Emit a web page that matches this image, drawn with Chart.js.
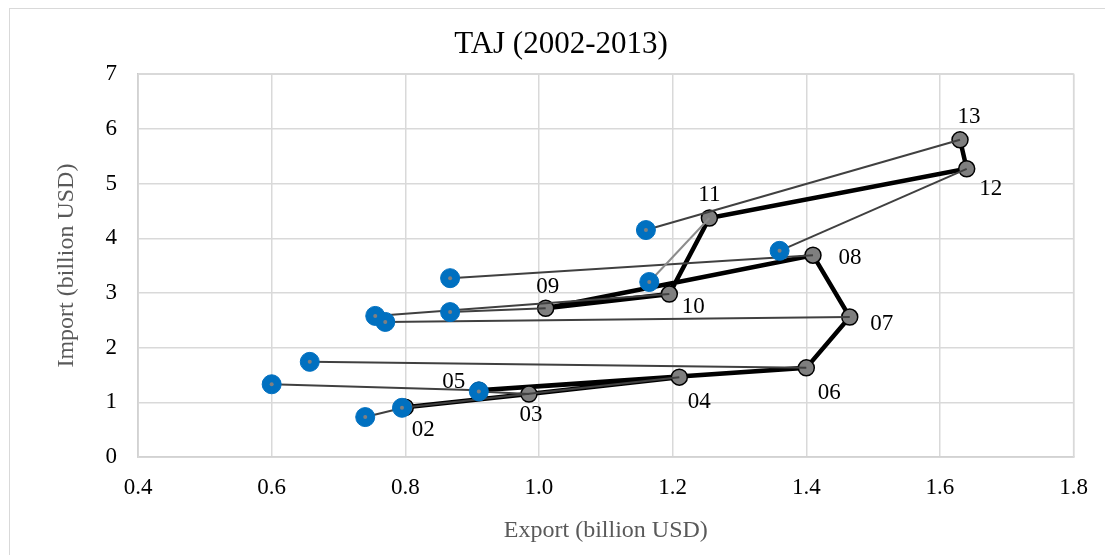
<!DOCTYPE html>
<html>
<head>
<meta charset="utf-8">
<script src="https://cdn.jsdelivr.net/npm/chart.js@4.4.1/dist/chart.umd.min.js"></script>
<style>
    html, body { margin: 0; padding: 0; background: #fff; }
    #wrap { position: relative; width: 1105px; height: 555px; overflow: hidden; }
    #frame { position: absolute; left: 9px; top: 8px; width: 1120px; height: 580px; border: 1px solid #d9d9d9; }
    canvas { position: absolute; left: 0; top: 0; }
</style>
</head>
<body>
<div id="wrap">
    <div id="frame"></div>
    <canvas id="chart" width="1105" height="555"></canvas>
</div>
<script>
// year labels for each point
const years = ['02', '03', '04', '05', '06', '07', '08', '09', '10', '11', '12', '13'];

// grey points (black path)
const exportGrey = [0.80, 0.985, 1.21, 0.91, 1.40, 1.465, 1.41, 1.01, 1.195, 1.255, 1.64, 1.63];
const importGrey = [0.91, 1.15, 1.46, 1.22, 1.63, 2.56, 3.69, 2.72, 2.98, 4.37, 5.27, 5.80];

// blue points, one per year
const exportBlue = [0.74, 0.91, 0.795, 0.60, 0.657, 0.77, 0.867, 0.867, 0.755, 1.165, 1.36, 1.16];
const importBlue = [0.73, 1.20, 0.90, 1.33, 1.74, 2.47, 3.27, 2.65, 2.58, 3.20, 3.77, 4.15];

// axis ticks
const xTicks = [0.4, 0.6, 0.8, 1.0, 1.2, 1.4, 1.6, 1.8];
const yTicks = [0, 1, 2, 3, 4, 5, 6, 7];

// label offsets (px) relative to grey point
const labelOffsets = [[18, 23], [2, 21], [20, 25], [-25, -8], [23, 25], [32, 7],
    [37, 3], [2, -21], [24, 13], [0, -23], [24, 20], [9, -23]];

const greyPts = years.map((y, i) => ({ x: exportGrey[i], y: importGrey[i] }));
const bluePts = years.map((y, i) => ({ x: exportBlue[i], y: importBlue[i] }));

// thin connector lines: blue -> grey, gap, ...
const pairPts = [];
years.forEach((y, i) => {
    pairPts.push(bluePts[i], greyPts[i], { x: null, y: null });
});
const lightPair = years.indexOf('11') * 3;

const serif = "'Liberation Serif', 'Times New Roman', serif";

// small grey dot in the middle of blue markers + year labels
const markPlugin = {
    id: 'marks',
    afterDatasetsDraw(chart) {
        const ctx = chart.ctx;
        const blueMeta = chart.getDatasetMeta(0);
        ctx.save();
        ctx.fillStyle = '#808080';
        blueMeta.data.forEach(p => {
            ctx.beginPath();
            ctx.arc(p.x, p.y, 2, 0, Math.PI * 2);
            ctx.fill();
        });
        const greyMeta = chart.getDatasetMeta(2);
        ctx.fillStyle = '#000';
        ctx.font = '23px ' + serif;
        ctx.textAlign = 'center';
        ctx.textBaseline = 'middle';
        greyMeta.data.forEach((p, i) => {
            ctx.fillText(years[i], p.x + labelOffsets[i][0], p.y + labelOffsets[i][1]);
        });
        ctx.restore();
    }
};

const chart = new Chart(document.getElementById('chart'), {
    type: 'scatter',
    data: {
        datasets: [
            {
                label: 'blue',
                data: bluePts,
                showLine: false,
                pointRadius: 9.5,
                pointBackgroundColor: '#0070C0',
                pointBorderColor: '#0070C0',
                pointBorderWidth: 1,
                order: 0
            },
            {
                label: 'pairs',
                data: pairPts,
                showLine: true,
                spanGaps: false,
                borderColor: '#404040',
                borderWidth: 2,
                pointRadius: 0,
                segment: {
                    borderColor: c => c.p0DataIndex === lightPair ? '#8c8c8c' : undefined
                },
                order: 1
            },
            {
                label: 'path',
                data: greyPts,
                showLine: true,
                borderColor: '#000',
                borderWidth: 4.5,
                pointRadius: 8,
                pointBackgroundColor: '#7f7f7f',
                pointBorderColor: '#000',
                pointBorderWidth: 1.5,
                order: 2
            }
        ]
    },
    options: {
        responsive: false,
        animation: false,
        layout: { padding: { top: 10, right: 30, left: 47, bottom: 0 } },
        plugins: {
            legend: { display: false },
            tooltip: { enabled: false },
            title: {
                display: true,
                text: 'TAJ (2002-2013)',
                color: '#000',
                font: { family: serif, size: 31, weight: 'normal' },
                padding: { top: 16, bottom: 11 }
            }
        },
        scales: {
            x: {
                type: 'linear',
                min: xTicks[0],
                max: xTicks[xTicks.length - 1],
                afterBuildTicks: s => { s.ticks = xTicks.map(v => ({ value: v })); },
                afterFit: s => { s.height = 98; },
                grid: { color: '#d9d9d9', lineWidth: 1.5, drawTicks: false },
                border: { color: '#bfbfbf', width: 1.5 },
                ticks: {
                    color: '#000',
                    padding: 17,
                    font: { family: serif, size: 23 },
                    callback: v => v.toFixed(1)
                },
                title: {
                    display: true,
                    text: 'Export (billion USD)',
                    color: '#595959',
                    font: { family: serif, size: 24 },
                    padding: { top: 0, bottom: 10 }
                }
            },
            y: {
                type: 'linear',
                min: yTicks[0],
                max: yTicks[yTicks.length - 1],
                afterBuildTicks: s => { s.ticks = yTicks.map(v => ({ value: v })); },
                afterFit: s => { s.width = 91; },
                grid: { color: '#d9d9d9', lineWidth: 1.5, drawTicks: false },
                border: { color: '#bfbfbf', width: 1.5 },
                ticks: {
                    color: '#000',
                    padding: 21,
                    font: { family: serif, size: 23 }
                },
                title: {
                    display: true,
                    text: 'Import (billion USD)',
                    color: '#595959',
                    font: { family: serif, size: 24 },
                    padding: { top: 5, bottom: 0 }
                }
            }
        }
    },
    plugins: [markPlugin, {
        id: 'areaBorder',
        beforeDatasetsDraw(chart) {
            const a = chart.chartArea;
            const ctx = chart.ctx;
            ctx.save();
            ctx.strokeStyle = '#d9d9d9';
            ctx.lineWidth = 1.5;
            ctx.strokeRect(a.left, a.top, a.right - a.left, a.bottom - a.top);
            ctx.restore();
        }
    }]
});
</script>
</body>
</html>
